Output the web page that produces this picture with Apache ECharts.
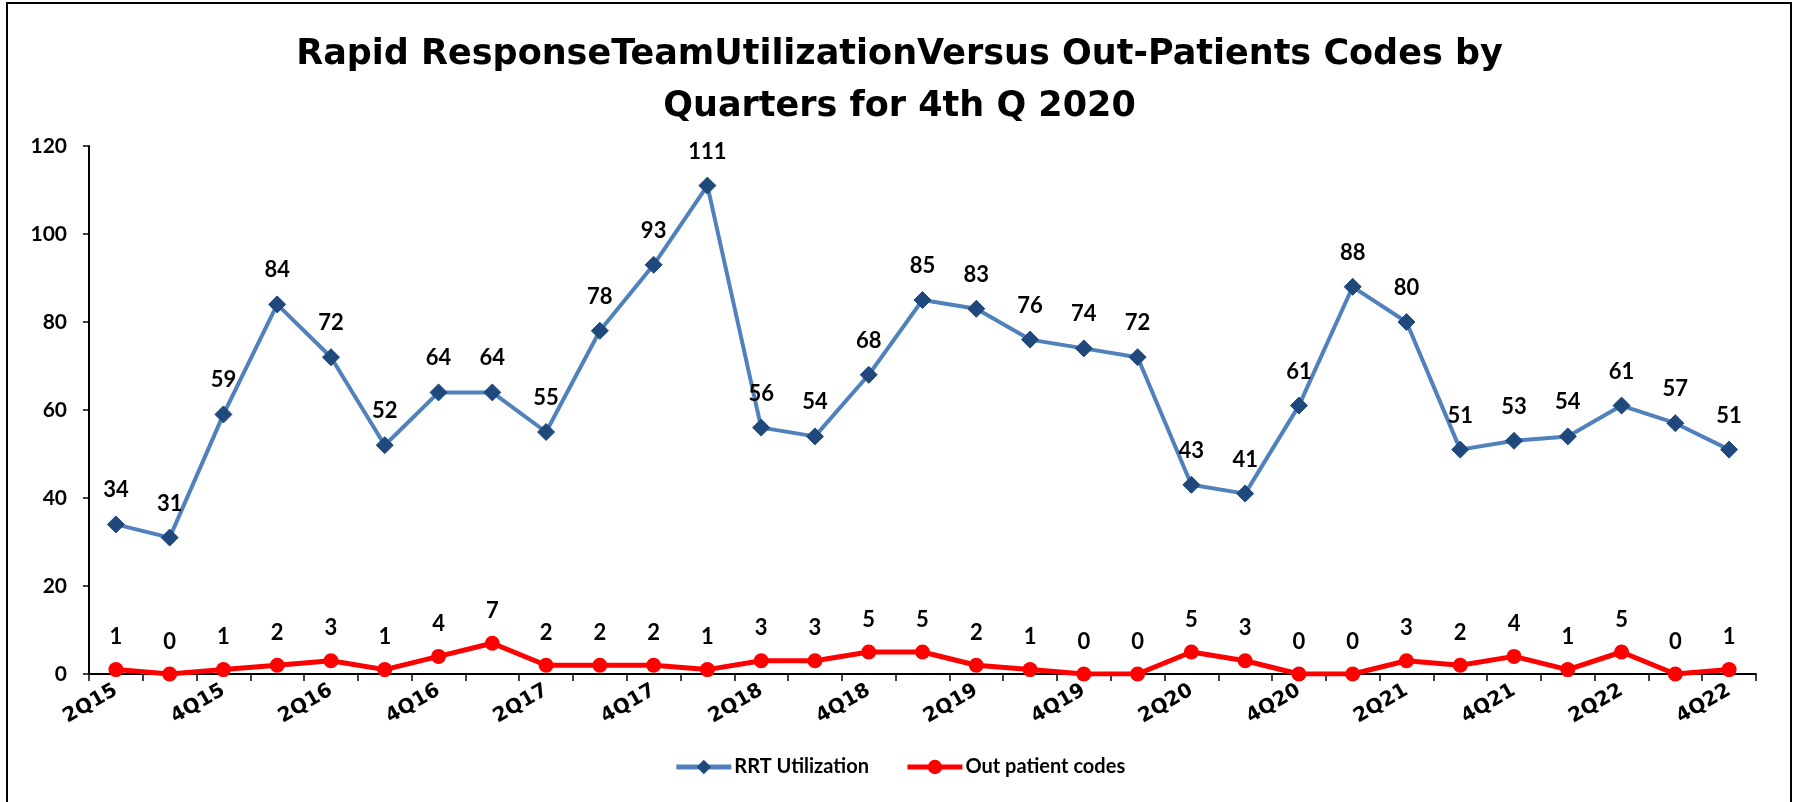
<!DOCTYPE html>
<html>
<head>
<meta charset="utf-8">
<script src="https://cdn.jsdelivr.net/npm/echarts@6/dist/echarts.min.js"></script>
<style>
  html, body { margin: 0; padding: 0; background: #fff; }
  #chart { width: 1799px; height: 802px; }
</style>
</head>
<body>
<div id="chart"></div>
<script>
// quarters 2Q15 .. 4Q22
const quarters = [
  '2Q15', '3Q15', '4Q15', '1Q16', '2Q16', '3Q16', '4Q16', '1Q17', '2Q17', '3Q17',
  '4Q17', '1Q18', '2Q18', '3Q18', '4Q18', '1Q19', '2Q19', '3Q19', '4Q19', '1Q20',
  '2Q20', '3Q20', '4Q20', '1Q21', '2Q21', '3Q21', '4Q21', '1Q22', '2Q22', '3Q22', '4Q22'
];
const rrtUtilization = [
  34, 31, 59, 84, 72, 52, 64, 64, 55, 78,
  93, 111, 56, 54, 68, 85, 83, 76, 74, 72,
  43, 41, 61, 88, 80, 51, 53, 54, 61, 57, 51
];
const outPatientCodes = [
  1, 0, 1, 2, 3, 1, 4, 7, 2, 2,
  2, 1, 3, 3, 5, 5, 2, 1, 0, 0,
  5, 3, 0, 0, 3, 2, 4, 1, 5, 0, 1
];
const yTicks = { min: 0, max: 120, interval: 20 };

const font = 'Lato, "Open Sans", sans-serif';
// the original text is spaced out, a wider face gets closer to it
const wideFont = '"DejaVu Sans", "Open Sans", sans-serif';

const chart = echarts.init(document.getElementById('chart'));

const labelStyle = {
  show: true,
  position: 'top',
  distance: 14,
  color: '#000',
  fontFamily: font,
  fontWeight: 'bold',
  fontSize: 22
};

chart.setOption({
  animation: false,
  backgroundColor: '#fff',
  title: {
    text: 'Rapid ResponseTeamUtilizationVersus Out-Patients Codes by\nQuarters for 4th Q 2020',
    left: 'center',
    top: 24,
    textStyle: {
      fontFamily: wideFont,
      fontWeight: 'bold',
      fontSize: 35,
      lineHeight: 52,
      color: '#000'
    }
  },
  graphic: [{
    type: 'rect',
    shape: { x: 7, y: 3, width: 1784, height: 810 },
    style: { fill: 'none', stroke: '#000', lineWidth: 2 },
    silent: true
  }],
  legend: {
    top: 752,
    left: 'center',
    itemGap: 36,
    itemWidth: 55,
    itemHeight: 18,
    lineStyle: { width: 5 },
    textStyle: { fontFamily: font, fontWeight: 'bold', fontSize: 20, color: '#000', padding: [0, 0, 0, -2] },
    data: [
      { name: 'RRT Utilization', lineStyle: { width: 5 } },
      { name: 'Out patient codes', lineStyle: { width: 5 } }
    ]
  },
  grid: { left: 89, right: 43, top: 146, bottom: 128 },
  xAxis: {
    type: 'category',
    data: quarters,
    boundaryGap: true,
    axisLine: { lineStyle: { color: '#000', width: 2 } },
    axisTick: { show: true, length: 7, interval: 0, lineStyle: { color: '#000', width: 1.5 } },
    axisLabel: {
      interval: 1,
      rotate: 30,
      margin: 15,
      color: '#000',
      fontFamily: wideFont,
      fontWeight: 'bold',
      fontSize: 20
    }
  },
  yAxis: {
    type: 'value',
    min: yTicks.min,
    max: yTicks.max,
    interval: yTicks.interval,
    splitLine: { show: false },
    axisLine: { show: true, lineStyle: { color: '#000', width: 2 } },
    axisTick: { show: true, length: 6, lineStyle: { color: '#000', width: 1.5 } },
    axisLabel: {
      margin: 22,
      color: '#000',
      fontFamily: font,
      fontWeight: 'bold',
      fontSize: 21
    }
  },
  series: [{
    name: 'RRT Utilization',
    type: 'line',
    data: rrtUtilization,
    symbol: 'diamond',
    symbolSize: 17,
    lineStyle: { color: '#4F81BD', width: 4 },
    itemStyle: { color: '#1F497D', borderColor: '#1F497D' },
    label: labelStyle,
    z: 3
  }, {
    name: 'Out patient codes',
    type: 'line',
    data: outPatientCodes,
    symbol: 'circle',
    symbolSize: 15,
    lineStyle: { color: '#FF0000', width: 5 },
    itemStyle: { color: '#FF0000' },
    label: labelStyle,
    z: 4
  }]
});
</script>
</body>
</html>
